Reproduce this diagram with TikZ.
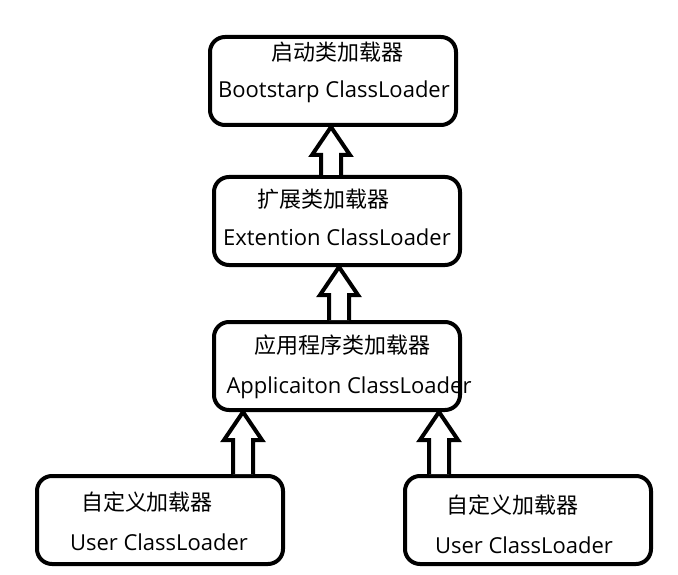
\documentclass[tikz,border=0pt]{standalone}
\usepackage{fontspec}
\setmainfont{Open Sans}
\newfontfamily\cjk{Noto Sans CJK SC}
\usetikzlibrary{calc}
\tikzset{
  box/.style={draw=black, line width=4pt, rounded corners=15pt, minimum width=246pt, minimum height=88pt, inner sep=0pt},
  cn/.style={inner sep=0pt, font=\cjk\fontsize{22}{26}\selectfont},
  en/.style={inner sep=0pt, font=\fontsize{22}{26}\selectfont},
  barrow/.style={draw=black, fill=white, line width=4pt, line join=miter}
}
\newcommand\uparr[3]{%
  \draw[barrow] let \p1=(#2.north), \p2=(#3.south) in
    ({#1pt-10pt},\y1) -- ({#1pt-10pt},{\y2-28pt}) -- ({#1pt-19pt},{\y2-28pt}) -- ({#1pt},\y2)
    -- ({#1pt+19pt},{\y2-28pt}) -- ({#1pt+10pt},{\y2-28pt}) -- ({#1pt+10pt},\y1);
}
\begin{document}
\begin{tikzpicture}[x=1pt,y=-1pt]
\useasboundingbox (0,0) rectangle (678,575);
\fill[white] (0,0) rectangle (678,575);
\node[box] (b1) at (333,81) {};
\node[box] (b2) at (337,221) {};
\node[box] (b3) at (337,366) {};
\node[box] (b4) at (160,520) {};
\node[box] (b5) at (528,520) {};
\uparr{331}{b2}{b1}
\uparr{339}{b3}{b2}
\uparr{243}{b4}{b3}
\uparr{439}{b5}{b3}
\node[cn] (t1a) at (337,52) {启动类加载器};
\node[en] (t1b) at (334,92) {Bootstarp ClassLoader};
\node[cn] (t2a) at (323,199) {扩展类加载器};
\node[en] (t2b) at (337,237) {Extention ClassLoader};
\node[cn] (t3a) at (342,345) {应用程序类加载器};
\node[en] (t3b) at (349,388) {Applicaiton ClassLoader};
\node[cn] (t4a) at (147,502) {自定义加载器};
\node[en] (t4b) at (159,542) {User ClassLoader};
\node[cn] (t5a) at (512,505) {自定义加载器};
\node[en] (t5b) at (524,545) {User ClassLoader};
\end{tikzpicture}
\end{document}
